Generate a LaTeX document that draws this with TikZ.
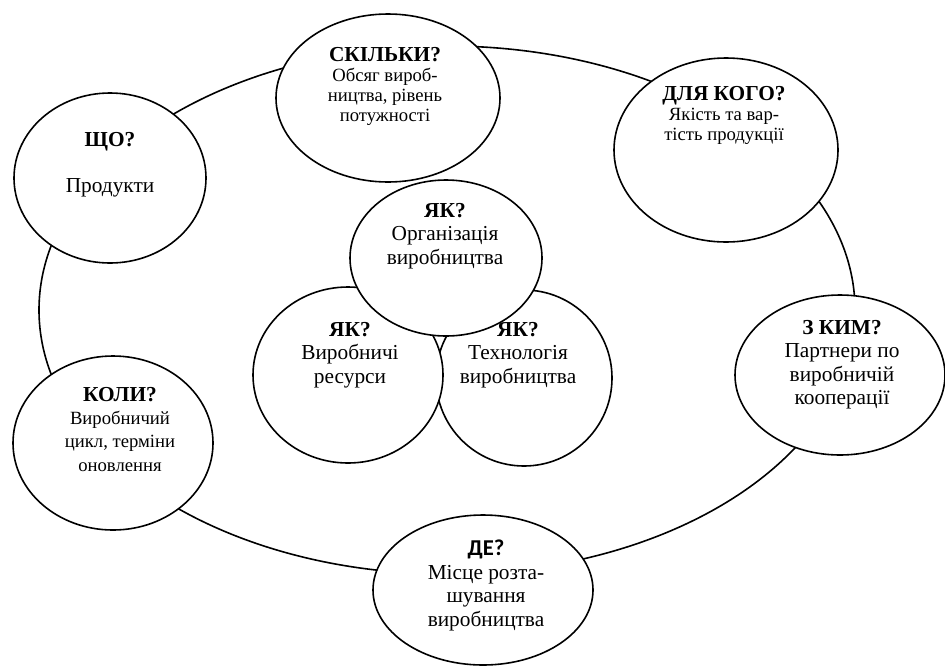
\documentclass[tikz,border=0pt]{standalone}
\usepackage{fontspec}
\setmainfont{Liberation Serif}
\newfontfamily\calfont{Carlito}
\usetikzlibrary{shapes.geometric}
\newcommand{\bigtxt}{\fontsize{16}{17.6}\selectfont}
\newcommand{\smalltxt}{\fontsize{14}{15}\selectfont}
\newcommand{\hd}[1]{{\fontsize{16}{17.6}\selectfont\bfseries #1}}
\tikzset{
  ring/.style={draw, ellipse, line width=1.2pt, inner sep=0pt},
  qbox/.style={draw, ellipse, fill=white, line width=1.2pt, inner sep=0pt},
  qtext/.style={align=center, inner sep=0pt, anchor=north, font=\bigtxt},
  qsmall/.style={qtext, font=\smalltxt}
}

\begin{document}
\begin{tikzpicture}[x=0.75pt, y=-0.75pt]
\useasboundingbox (0,0) rectangle (945,668);
% ring linking the outer questions
\node[ring, minimum width=612pt, minimum height=396pt] (ring) at (447,310) {};
% outer questions
\node[qbox, minimum width=144pt, minimum height=127.5pt] (what) at (110,178) {};
\node[qbox, minimum width=168pt, minimum height=126pt] (howmany) at (388,98) {};
\node[qbox, minimum width=168pt, minimum height=138pt] (forwhom) at (726,150) {};
\node[qbox, minimum width=157.5pt, minimum height=120pt] (withwhom) at (840,375) {};
\node[qbox, minimum width=165pt, minimum height=112.5pt] (where) at (483,590) {};
\node[qbox, minimum width=150pt, minimum height=130.5pt] (when) at (113,443) {};
% the three "how" questions in the middle
\node[qbox, minimum width=132pt, minimum height=132pt] (howtech) at (524,378) {};
\node[qbox, minimum width=142.5pt, minimum height=132pt] (howres) at (348,375) {};
\node[qbox, minimum width=144pt, minimum height=117pt] (howorg) at (446,258) {};
% texts
\node[qtext] (what-txt) at (110,132) {\hd{ЩО?}\\[17pt]Продукти};
\node[qsmall] (howmany-txt) at (385,47) {\hd{СКІЛЬКИ?}\\Обсяг вироб-\\ництва, рівень\\потужності};
\node[qsmall] (forwhom-txt) at (724,86) {\hd{ДЛЯ КОГО?}\\Якість та вар-\\тість продукції};
\node[qtext] (withwhom-txt) at (842,320) {\hd{З КИМ?}\\Партнери по\\виробничій\\кооперації};
\node[qtext] (where-txt) at (486,540) {{\calfont\fontsize{17}{17.6}\selectfont\bfseries ДЕ?}\\Місце розта-\\шування\\виробництва};
\node[qtext, font=\fontsize{14}{17.4}\selectfont] (when-txt) at (120,387) {\hd{КОЛИ?}\\Виробничий\\цикл, терміни\\оновлення};
\node[qtext] (howorg-txt) at (445,203) {\hd{ЯК?}\\Організація\\виробництва};
\node[qtext] (howres-txt) at (350,322) {\hd{ЯК?}\\Виробничі\\ресурси};
\node[qtext] (howtech-txt) at (518,322) {\hd{ЯК?}\\Технологія\\виробництва};
\end{tikzpicture}
\end{document}
